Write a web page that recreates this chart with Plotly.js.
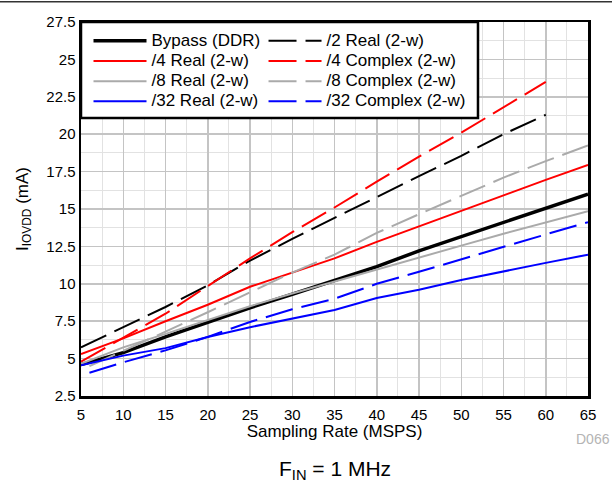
<!DOCTYPE html>
<html>
<head>
<meta charset="utf-8">
<script src="https://cdn.plot.ly/plotly-3.0.1.min.js"></script>
<style>html,body{margin:0;padding:0;background:#fff;}#chart{width:612px;height:483px;}</style>
</head>
<body>
<div id="chart"></div>
<script>
// Sampling rate (MSPS)
const xFull = [5, 10, 15, 20, 25, 30, 35, 40, 45, 50, 55, 60, 65];
const xTo60 = [5, 10, 15, 20, 25, 30, 35, 40, 45, 50, 55, 60];
const xFrom6 = [6, 10, 15, 20, 25, 30, 35, 40, 45, 50, 55, 60, 65];

// IOVDD current (mA)
const bypassDDR = [4.6, 5.4, 6.45, 7.45, 8.4, 9.3, 10.2, 11.15, 12.2, 13.15, 14.1, 15.05, 16.0];
const real2 = [5.75, 7.1, 8.45, 9.9, 11.55, 13.0, 14.42, 15.8, 17.2, 18.55, 20.0, 21.3];
const real4 = [5.3, 6.35, 7.5, 8.6, 9.8, 10.75, 11.7, 12.8, 13.85, 14.9, 15.95, 16.95, 17.95];
const complex4 = [4.8, 6.4, 8.0, 9.85, 11.7, 13.45, 15.1, 16.83, 18.5, 20.1, 21.8, 23.5];
const real8 = [4.65, 5.75, 6.65, 7.6, 8.5, 9.35, 10.15, 10.9, 11.7, 12.55, 13.35, 14.1, 14.85];
const complex8 = [4.5, 5.5, 6.8, 8.1, 9.4, 10.75, 11.95, 13.4, 14.65, 15.85, 17.1, 18.2, 19.25];
const real32 = [4.55, 5.2, 5.7, 6.45, 7.1, 7.65, 8.25, 9.05, 9.6, 10.25, 10.85, 11.4, 11.95];
const complex32 = [4.05, 4.75, 5.55, 6.45, 7.45, 8.3, 9.0, 10.0, 10.8, 11.65, 12.45, 13.3, 14.12];

const names = ['Bypass (DDR)', '/2 Real (2-w)', '/4 Real (2-w)', '/4 Complex (2-w)',
               '/8 Real (2-w)', '/8 Complex (2-w)', '/32 Real (2-w)', '/32 Complex (2-w)'];

const DASH = '28px,9px';
const FONT = 'Liberation Sans, Arial, sans-serif';

function tr(x, y, name, color, width, dash, legendId) {
  return {x: x, y: y, name: '<span style="font-size:17px">' + name + '</span>',
          type: 'scatter', mode: 'lines', legend: legendId,
          line: {color: color, width: width, dash: dash || 'solid'}};
}

const data = [
  tr(xFull, bypassDDR, names[0], '#000000', 3.5, null, 'legend'),
  tr(xTo60, real2, names[1], '#000000', 2, DASH, 'legend2'),
  tr(xFull, real4, names[2], '#ff0000', 2, null, 'legend'),
  tr(xTo60, complex4, names[3], '#ff0000', 2, DASH, 'legend2'),
  tr(xFull, real8, names[4], '#aaaaaa', 2, null, 'legend'),
  tr(xFrom6, complex8, names[5], '#aaaaaa', 2, DASH, 'legend2'),
  tr(xFull, real32, names[6], '#0000ff', 2, null, 'legend'),
  tr(xFrom6, complex32, names[7], '#0000ff', 2, DASH, 'legend2')
];

function legendCfg(xPos) {
  return {
    x: xPos, y: 0.99, xanchor: 'left', yanchor: 'top',
    orientation: 'v', itemwidth: 53,
    bgcolor: 'rgba(0,0,0,0)', borderwidth: 0,
    font: {family: FONT, size: 13.2, color: '#000000'},
    traceorder: 'normal'
  };
}

const layout = {
  width: 612, height: 483,
  margin: {l: 81, r: 24, t: 22, b: 87},
  paper_bgcolor: '#ffffff', plot_bgcolor: '#ffffff',
  font: {family: FONT, size: 15, color: '#000000'},
  showlegend: true,
  legend: legendCfg(0.0148),
  legend2: legendCfg(0.36),
  xaxis: {
    range: [5, 65], tick0: 5, dtick: 5, ticks: '',
    showgrid: true, gridcolor: '#c4c4c4', gridwidth: 1.5,
    minor: {dtick: 2.5, showgrid: true, gridcolor: '#e2e2e2', gridwidth: 1},
    showline: true, linecolor: '#000000', linewidth: 2.5, mirror: true,
    zeroline: false, ticklabelstandoff: 3,
    tickfont: {family: FONT, size: 15, color: '#000000'},
    title: {text: 'Sampling Rate (MSPS)', font: {family: FONT, size: 17, color: '#000000'}, standoff: 4}
  },
  yaxis: {
    range: [2.5, 27.5], tick0: 2.5, dtick: 2.5, ticks: '',
    showgrid: true, gridcolor: '#c4c4c4', gridwidth: 1.5,
    minor: {dtick: 1.25, showgrid: true, gridcolor: '#e2e2e2', gridwidth: 1},
    showline: true, linecolor: '#000000', linewidth: 2.5, mirror: true,
    zeroline: false,
    tickfont: {family: FONT, size: 15, color: '#000000'},
    title: {text: 'I<sub>IOVDD</sub> (mA)', font: {family: FONT, size: 17, color: '#000000'}, standoff: 14}
  },
  annotations: [
    {text: 'F<sub>IN</sub> = 1 MHz', xref: 'paper', yref: 'paper', x: 0.5, y: -0.198, xanchor: 'center', yanchor: 'middle',
     showarrow: false, font: {family: FONT, size: 21, color: '#000000'}},
    {text: 'D066', xref: 'paper', yref: 'paper', x: 0.972, y: -0.115, xanchor: 'left', yanchor: 'middle',
     showarrow: false, font: {family: FONT, size: 14, color: '#b4b4b4'}}
  ],
  shapes: [
    {type: 'line', xref: 'paper', yref: 'paper', x0: -0.2, x1: 1.1, y0: 1.054, y1: 1.054,
     line: {color: '#333333', width: 1.5}},
    {type: 'rect', xref: 'paper', yref: 'paper', layer: 'above', x0: 0, x1: 0.783, y0: 0.743, y1: 1,
     fillcolor: '#ffffff', line: {color: '#000000', width: 2.5}}
  ]
};

Plotly.newPlot('chart', data, layout, {staticPlot: true, displayModeBar: false});
</script>
</body>
</html>
